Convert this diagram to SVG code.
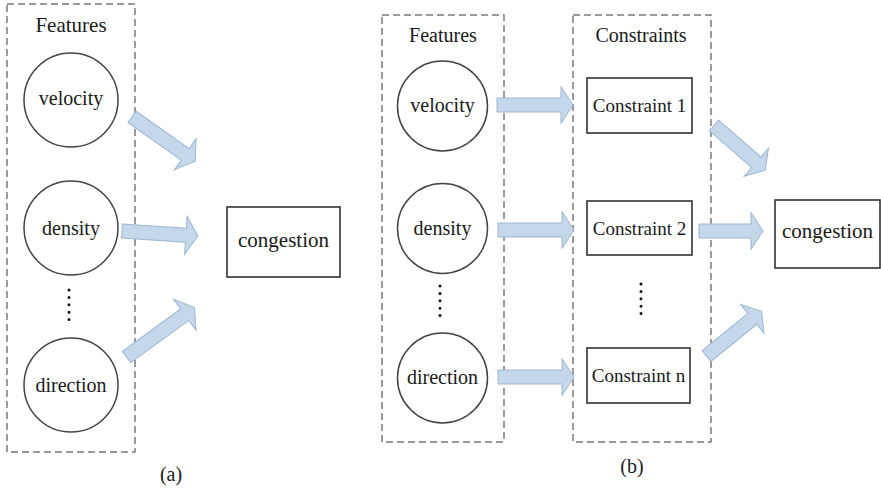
<svg xmlns="http://www.w3.org/2000/svg" width="881" height="491" viewBox="0 0 881 491" font-family="'Liberation Serif', 'DejaVu Serif', 'Times New Roman', serif">
<style>
.dash{fill:none;stroke:#7a7a7a;stroke-width:1.5;stroke-dasharray:7 4}
.circ{fill:#fff;stroke:#444;stroke-width:1.5}
.box{fill:#fff;stroke:#333;stroke-width:1.6}
.arr{fill:#c5d8eb;stroke:#9db5ce;stroke-width:1}
.dots{stroke:#111;stroke-width:3;stroke-linecap:round;stroke-dasharray:0 7.4}
text{fill:#1a1a1a;text-anchor:middle}
.t20{font-size:20px}
.t19{font-size:19px}
.t21{font-size:21px}
</style>
<rect width="881" height="491" fill="#fff"/>
<g id="panel-a">
  <g id="a-features">
    <rect class="dash" x="7" y="4" width="128" height="448"/>
    <text class="t21" x="71" y="32">Features</text>
  </g>
  <g id="a-velocity"><circle class="circ" cx="71" cy="100" r="47"/><text class="t20" x="71" y="105">velocity</text></g>
  <g id="a-density"><circle class="circ" cx="71" cy="228" r="47"/><text class="t20" x="71" y="235">density</text></g>
  <g id="a-dots"><line class="dots" x1="69" y1="290" x2="69" y2="327"/></g>
  <g id="a-direction"><circle class="circ" cx="71" cy="385" r="47"/><text class="t20" x="71" y="392">direction</text></g>
  <g id="a-congestion"><rect class="box" x="227" y="207" width="113" height="70"/><text class="t21" x="283.5" y="247">congestion</text></g>
  <text id="a-caption" class="t20" x="171" y="481">(a)</text>
</g>
<g id="panel-b">
  <g id="b-features">
    <rect class="dash" x="382" y="15" width="122" height="427"/>
    <text class="t20" x="443" y="42">Features</text>
  </g>
  <g id="b-constraints">
    <rect class="dash" x="573" y="15" width="138" height="427"/>
    <text class="t20" x="641" y="42">Constraints</text>
  </g>
  <g id="b-velocity"><circle class="circ" cx="442.5" cy="106" r="45"/><text class="t20" x="442.5" y="112">velocity</text></g>
  <g id="b-density"><circle class="circ" cx="442.5" cy="228.5" r="45"/><text class="t20" x="442.5" y="235">density</text></g>
  <g id="b-dots1"><line class="dots" x1="440" y1="286" x2="440" y2="323"/></g>
  <g id="b-direction"><circle class="circ" cx="442.5" cy="378" r="45"/><text class="t20" x="442.5" y="384">direction</text></g>
  <g id="b-c1"><rect class="box" x="587" y="78" width="105" height="55"/><text class="t19" x="639.5" y="112">Constraint 1</text></g>
  <g id="b-c2"><rect class="box" x="587" y="201" width="105" height="54"/><text class="t19" x="639.5" y="235">Constraint 2</text></g>
  <g id="b-dots2"><line class="dots" x1="641" y1="284" x2="641" y2="321"/></g>
  <g id="b-cn"><rect class="box" x="587" y="348" width="103" height="55"/><text class="t19" x="638.5" y="382">Constraint n</text></g>
  <g id="b-congestion"><rect class="box" x="775" y="200" width="105" height="68"/><text class="t21" x="827.5" y="238">congestion</text></g>
  <text id="b-caption" class="t20" x="632" y="473">(b)</text>
</g>
<g id="connectors">
  <path class="arr" transform="translate(132,117) rotate(35)" d="M0,-7 H65 V-19 L77,0 L65,19 V7 H0 Z"/>
  <path class="arr" transform="translate(122,231) rotate(3.8)" d="M0,-7 H64 V-19 L76,0 L64,19 V7 H0 Z"/>
  <path class="arr" transform="translate(126.5,357) rotate(-36)" d="M0,-7 H72 V-19 L84,0 L72,19 V7 H0 Z"/>
  <path class="arr" transform="translate(497,105)" d="M0,-7 H64 V-18.5 L76,0 L64,18.5 V7 H0 Z"/>
  <path class="arr" transform="translate(498,230)" d="M0,-7 H64 V-18.5 L76,0 L64,18.5 V7 H0 Z"/>
  <path class="arr" transform="translate(498,377)" d="M0,-7 H64 V-18.5 L76,0 L64,18.5 V7 H0 Z"/>
  <path class="arr" transform="translate(714,125.5) rotate(41)" d="M0,-7 H56 V-18.5 L68,0 L56,18.5 V7 H0 Z"/>
  <path class="arr" transform="translate(699,231)" d="M0,-7 H52 V-18.5 L64,0 L52,18.5 V7 H0 Z"/>
  <path class="arr" transform="translate(706.5,356) rotate(-39)" d="M0,-7 H59 V-18.5 L71,0 L59,18.5 V7 H0 Z"/>
</g>
</svg>
